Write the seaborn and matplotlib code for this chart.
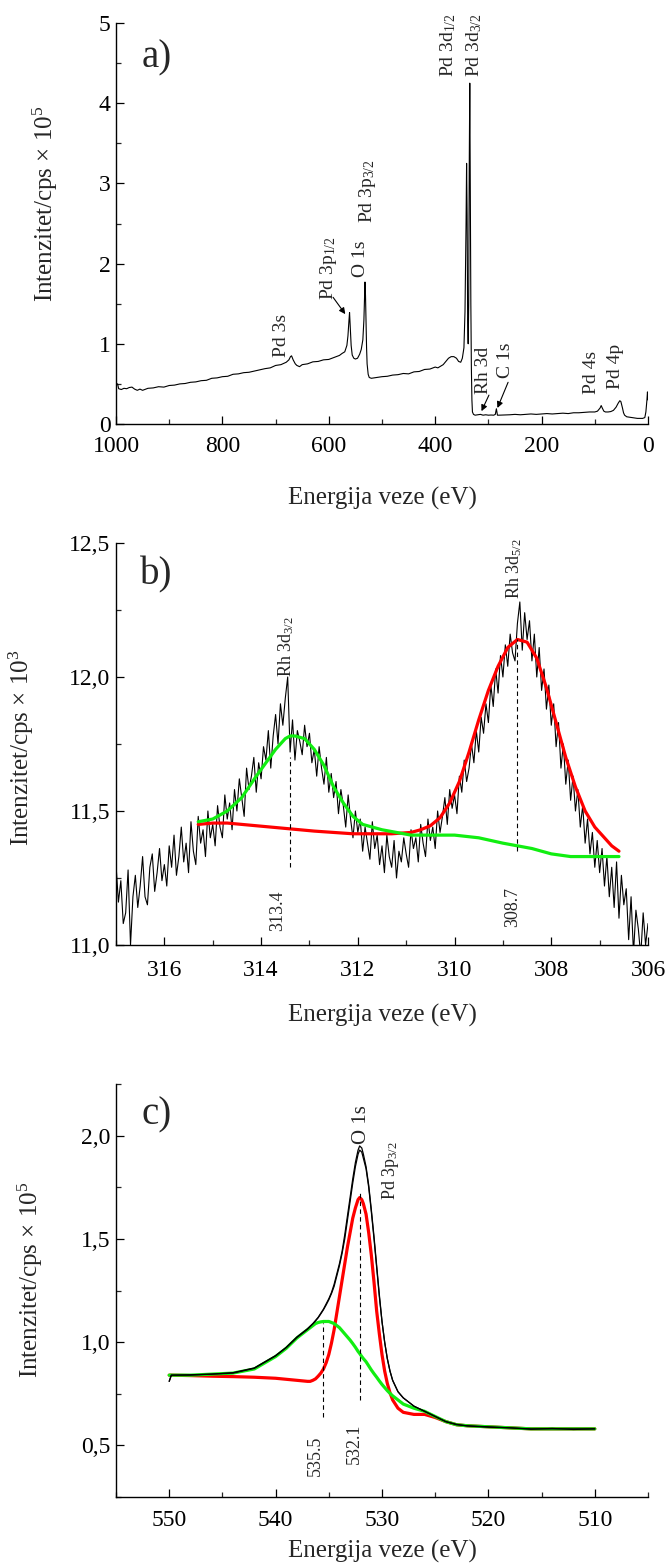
import numpy as np
import matplotlib
matplotlib.use('Agg')
import matplotlib.pyplot as plt
import seaborn as sns
from matplotlib.ticker import MultipleLocator, FuncFormatter

# ---------------- a) survey spectrum (intensity in 1e5 cps) ----------------
survey_ev = [1000, 999, 997, 995, 990, 985, 980, 975, 970, 965, 960, 955, 950, 940, 930,
             920, 910, 900, 890, 880, 870, 860, 850, 840, 830, 820, 810, 800, 790, 780,
             770, 760, 750, 740, 730, 720, 710, 700, 690, 680, 675, 672, 670, 667, 663,
             660, 655, 650, 640, 630, 620, 610, 600, 590, 580, 575, 570, 566, 564, 562,
             561, 560, 558, 556, 553, 550, 546, 542, 539, 536, 534, 533, 532, 531, 530,
             529, 528, 526, 524, 520, 510, 500, 490, 480, 470, 460, 450, 440, 430, 420,
             410, 400, 395, 390, 385, 380, 375, 370, 365, 360, 356, 352, 349, 346, 344,
             342, 341, 340, 339, 338, 337, 336, 335, 334, 333, 332, 331, 330, 328, 325,
             320, 315, 310, 305, 300, 295, 290, 287, 285, 284, 283, 280, 270, 260, 250,
             240, 230, 220, 210, 200, 190, 180, 170, 160, 150, 140, 130, 120, 110, 100,
             95, 90, 88, 86, 83, 80, 75, 70, 65, 60, 56, 53, 51, 48, 46,
             44, 40, 35, 30, 25, 20, 15, 10, 6, 4, 2, 1, 0]
survey_int = [0.44, 0.50, 0.50, 0.44, 0.43, 0.445, 0.44, 0.455, 0.46, 0.435, 0.42, 0.435, 0.42, 0.445, 0.45,
              0.465, 0.46, 0.48, 0.485, 0.50, 0.505, 0.52, 0.525, 0.54, 0.545, 0.57, 0.575, 0.59, 0.595, 0.62,
              0.625, 0.64, 0.645, 0.66, 0.675, 0.69, 0.70, 0.73, 0.74, 0.77, 0.80, 0.84, 0.85, 0.80, 0.75,
              0.73, 0.715, 0.74, 0.75, 0.775, 0.78, 0.80, 0.805, 0.83, 0.855, 0.88, 0.90, 0.98, 1.10, 1.30,
              1.39, 1.25, 0.98, 0.86, 0.82, 0.81, 0.82, 0.87, 0.93, 1.05, 1.30, 1.55, 1.77, 1.60, 1.25,
              0.95, 0.75, 0.62, 0.58, 0.57, 0.58, 0.59, 0.595, 0.61, 0.615, 0.63, 0.625, 0.65, 0.655, 0.68,
              0.685, 0.71, 0.70, 0.72, 0.74, 0.78, 0.82, 0.84, 0.84, 0.82, 0.78, 0.77, 0.82, 0.95, 1.40,
              2.50, 3.25, 2.60, 1.30, 1.00, 1.50, 3.20, 4.25, 3.00, 1.50, 0.70, 0.30, 0.15, 0.12, 0.11,
              0.115, 0.12, 0.11, 0.115, 0.11, 0.112, 0.11, 0.12, 0.19, 0.15, 0.11, 0.11, 0.112, 0.115, 0.12,
              0.115, 0.12, 0.125, 0.12, 0.125, 0.13, 0.125, 0.13, 0.135, 0.13, 0.14, 0.14, 0.145, 0.15, 0.15,
              0.16, 0.20, 0.23, 0.20, 0.16, 0.15, 0.15, 0.155, 0.17, 0.21, 0.26, 0.29, 0.28, 0.20, 0.14,
              0.11, 0.09, 0.085, 0.08, 0.075, 0.07, 0.07, 0.07, 0.08, 0.15, 0.30, 0.40, 0.30]

# ---------------- b) Rh 3d region (intensity in 1e3 cps) ----------------
rh_ev = np.linspace(317.0, 306.0, 221)
rh_int = [11.30, 11.16, 11.24, 11.08, 11.12, 11.28, 11.00, 11.18, 11.26, 11.14,
          11.22, 11.33, 11.18, 11.15, 11.29, 11.34, 11.20, 11.27, 11.36, 11.24,
          11.30, 11.22, 11.37, 11.29, 11.41, 11.26, 11.33, 11.44, 11.31, 11.38,
          11.27, 11.46, 11.35, 11.30, 11.48, 11.38, 11.43, 11.33, 11.50, 11.40,
          11.45, 11.37, 11.52, 11.44, 11.40, 11.56, 11.47, 11.53, 11.43, 11.58,
          11.50, 11.62, 11.55, 11.48, 11.66, 11.58, 11.63, 11.70, 11.57, 11.68,
          11.62, 11.74, 11.69, 11.80, 11.66, 11.78, 11.86, 11.75, 11.90, 11.82,
          11.92, 12.00, 11.72, 11.84, 11.69, 11.80, 11.76, 11.71, 11.82, 11.74,
          11.79, 11.68, 11.73, 11.63, 11.74, 11.66, 11.60, 11.70, 11.57, 11.64,
          11.55, 11.61, 11.49, 11.58, 11.52, 11.44, 11.56, 11.47, 11.40, 11.50,
          11.42, 11.47, 11.35, 11.44, 11.38, 11.32, 11.46, 11.36, 11.41, 11.30,
          11.37, 11.27, 11.41, 11.33, 11.29, 11.39, 11.25, 11.35, 11.31, 11.40,
          11.34, 11.29, 11.43, 11.36, 11.40, 11.31, 11.45, 11.38, 11.33, 11.47,
          11.39, 11.44, 11.36, 11.50, 11.42, 11.48, 11.55, 11.45, 11.58, 11.51,
          11.56, 11.49, 11.63, 11.57, 11.69, 11.61, 11.66, 11.75, 11.68, 11.80,
          11.72, 11.85, 11.79, 11.90, 11.83, 11.97, 11.89, 12.03, 11.94, 12.08,
          12.00, 12.12, 12.04, 12.16, 12.09, 12.06, 12.20, 12.28, 12.10, 12.24,
          12.14, 12.21, 12.06, 12.16, 12.00, 12.11, 11.95, 12.03, 11.88, 11.97,
          11.82, 11.90, 11.74, 11.83, 11.66, 11.75, 11.60, 11.69, 11.54, 11.63,
          11.50, 11.58, 11.44, 11.52, 11.38, 11.47, 11.34, 11.42, 11.29, 11.39,
          11.27, 11.36, 11.22, 11.33, 11.18, 11.29, 11.14, 11.31, 11.10, 11.26,
          11.15, 11.21, 11.02, 11.18, 10.97, 11.13, 11.06, 10.96, 11.12, 11.00,
          11.08]

rh_green_ev = [315.3, 315.0, 314.7, 314.4, 314.1, 313.9, 313.7, 313.5, 313.4, 313.3, 313.1,
               312.9, 312.7, 312.5, 312.3, 312.1, 311.9, 311.7, 311.5, 311.2, 310.9, 310.5,
               310.0, 309.5, 309.0, 308.7, 308.4, 308.0, 307.6, 307.2, 306.9, 306.6]
rh_green = [11.46, 11.47, 11.50, 11.55, 11.63, 11.68, 11.73, 11.77, 11.78, 11.78, 11.77,
            11.73, 11.67, 11.59, 11.53, 11.48, 11.45, 11.44, 11.43, 11.42, 11.41, 11.41,
            11.41, 11.40, 11.38, 11.37, 11.36, 11.34, 11.33, 11.33, 11.33, 11.33]

rh_red_ev = [315.3, 315.0, 314.7, 314.4, 314.1, 313.8, 313.5, 313.2, 312.9, 312.5, 312.1,
             311.7, 311.3, 310.9, 310.7, 310.5, 310.3, 310.1, 309.9, 309.7, 309.5, 309.3,
             309.1, 308.9, 308.7, 308.5, 308.3, 308.1, 307.9, 307.7, 307.5, 307.3, 307.1,
             306.9, 306.75, 306.6]
rh_red = [11.45, 11.455, 11.455, 11.45, 11.445, 11.44, 11.435, 11.43, 11.425, 11.42, 11.415,
          11.415, 11.415, 11.42, 11.43, 11.445, 11.475, 11.53, 11.61, 11.72, 11.84, 11.95,
          12.04, 12.11, 12.14, 12.13, 12.07, 11.96, 11.83, 11.70, 11.59, 11.50, 11.44,
          11.40, 11.37, 11.35]

# ---------------- c) O 1s / Pd 3p3/2 region (intensity in 1e5 cps) ----------------
o1s_ev = [550, 549.8, 548, 546, 544, 542, 540, 539, 538,
          537, 536.75, 536.5, 536.25, 536, 535.75, 535.5, 535.25, 535, 534.75, 534.5, 534.25,
          534, 533.75, 533.5, 533.25, 533, 532.75, 532.5, 532.25, 532.1, 531.9, 531.75, 531.5,
          531.25, 531, 530.75, 530.5, 530.25, 530, 529.75, 529.5, 529.25, 529, 528.5, 528,
          527, 526, 525, 524, 523, 522, 520, 518, 516, 514, 512, 510]
o1s_data = [0.81, 0.84, 0.842, 0.845, 0.852, 0.875, 0.935, 0.975, 1.025,
            1.065, 1.078, 1.09, 1.105, 1.12, 1.14, 1.16, 1.185, 1.21, 1.24, 1.28, 1.33,
            1.38, 1.44, 1.52, 1.61, 1.70, 1.79, 1.87, 1.93, 1.95, 1.94, 1.91, 1.85,
            1.76, 1.64, 1.51, 1.37, 1.23, 1.10, 1.00, 0.92, 0.86, 0.815, 0.76, 0.73,
            0.69, 0.665, 0.64, 0.615, 0.602, 0.594, 0.588, 0.585, 0.578, 0.582, 0.577, 0.58]
o1s_envelope = [0.81, 0.84, 0.84, 0.845, 0.85, 0.873, 0.933, 0.973, 1.022,
                1.062, 1.075, 1.088, 1.102, 1.118, 1.137, 1.157, 1.18, 1.205, 1.235, 1.27, 1.32,
                1.37, 1.43, 1.50, 1.59, 1.68, 1.77, 1.85, 1.91, 1.93, 1.92, 1.89, 1.84,
                1.75, 1.63, 1.50, 1.36, 1.22, 1.10, 1.00, 0.92, 0.86, 0.815, 0.76, 0.73,
                0.69, 0.665, 0.64, 0.615, 0.60, 0.595, 0.59, 0.585, 0.58, 0.58, 0.58, 0.58]
o1s_green = [0.84, 0.84, 0.84, 0.845, 0.85, 0.87, 0.93, 0.97, 1.02,
             1.06, 1.07, 1.08, 1.09, 1.095, 1.098, 1.10, 1.10, 1.10, 1.095, 1.09, 1.08,
             1.07, 1.055, 1.04, 1.025, 1.01, 0.993, 0.975, 0.955, 0.945, 0.93, 0.92, 0.905,
             0.885, 0.865, 0.847, 0.83, 0.812, 0.795, 0.78, 0.765, 0.752, 0.74, 0.72, 0.70,
             0.68, 0.665, 0.64, 0.615, 0.60, 0.595, 0.59, 0.585, 0.58, 0.58, 0.58, 0.58]
o1s_red = [0.84, 0.84, 0.838, 0.835, 0.833, 0.83, 0.825, 0.82, 0.815,
           0.81, 0.81, 0.815, 0.822, 0.835, 0.85, 0.87, 0.90, 0.94, 0.995, 1.06, 1.14,
           1.22, 1.30, 1.38, 1.46, 1.53, 1.60, 1.65, 1.69, 1.70, 1.69, 1.67, 1.62,
           1.53, 1.42, 1.29, 1.15, 1.04, 0.94, 0.86, 0.80, 0.755, 0.72, 0.68, 0.66,
           0.65, 0.65, 0.635, 0.615, 0.60, 0.595, 0.59, 0.585, 0.58, 0.58, 0.58, 0.58]

RED = '#ff0000'
GREEN = '#11ee11'

sns.set_style('ticks')
plt.rcParams['font.family'] = ['Liberation Serif', 'DejaVu Serif']
plt.rcParams['mathtext.fontset'] = 'custom'
plt.rcParams['mathtext.rm'] = 'Liberation Serif'
plt.rcParams['mathtext.it'] = 'Liberation Serif:italic'

fig = plt.figure(figsize=(6.7, 15.64), dpi=100)
W, H = 670, 1564


def make_axes(top, bottom):
    return fig.add_axes([116 / W, 1 - bottom / H, 532 / W, (bottom - top) / H])


def style(ax, xpad):
    sns.despine(ax=ax)
    for s in ('left', 'bottom'):
        ax.spines[s].set_linewidth(1.0)
        ax.spines[s].set_color('black')
    ax.tick_params(which='major', direction='in', length=6, width=0.9, labelsize=17, colors='black')
    ax.tick_params(which='minor', direction='in', length=3.5, width=0.9)
    ax.tick_params(axis='x', pad=xpad)
    ax.tick_params(axis='y', pad=4)


comma = FuncFormatter(lambda v, p: f'{v:.1f}'.replace('.', ','))
ann = dict(rotation=90, ha='center', va='bottom', fontsize=14)
arrow = dict(arrowstyle='-|>', lw=0.8, color='black', mutation_scale=9, shrinkA=0, shrinkB=0)
LABEL = 18

# ---------- a) ----------
ax = make_axes(23, 424)
sns.lineplot(x=survey_ev, y=survey_int, ax=ax, color='black', lw=0.8)
ax.set_xlim(1000, 0)
ax.set_ylim(0, 5)
ax.xaxis.set_major_locator(MultipleLocator(200))
ax.xaxis.set_minor_locator(MultipleLocator(100))
ax.yaxis.set_major_locator(MultipleLocator(1))
ax.yaxis.set_minor_locator(MultipleLocator(0.5))
style(ax, 9)
ax.set_xlabel('Energija veze (eV)', fontsize=LABEL, labelpad=21)
ax.set_ylabel('Intenzitet/cps × 10$^{\\mathregular{5}}$', fontsize=LABEL)
ax.yaxis.set_label_coords(-0.105, 0.55)
ax.text(0.048, 0.913, 'a)', transform=ax.transAxes, fontsize=28, va='center', ha='left')
ax.text(688, 0.83, 'Pd 3s', **ann)
ax.text(600, 1.54, 'Pd 3p$_{\\mathregular{1/2}}$', **ann)
ax.annotate('', xy=(569, 1.37), xytext=(592, 1.58), arrowprops=arrow)
ax.text(540, 1.83, 'O 1s', **ann)
ax.text(528, 2.51, 'Pd 3p$_{\\mathregular{3/2}}$', **ann)
ax.text(375, 4.33, 'Pd 3d$_{\\mathregular{1/2}}$', **ann)
ax.text(327, 4.33, 'Pd 3d$_{\\mathregular{3/2}}$', **ann)
ax.text(309, 0.38, 'Rh 3d', **ann)
ax.annotate('', xy=(313, 0.16), xytext=(299, 0.36), arrowprops=arrow)
ax.text(267, 0.57, 'C 1s', **ann)
ax.annotate('', xy=(283, 0.20), xytext=(263, 0.52), arrowprops=arrow)
ax.text(106, 0.38, 'Pd 4s', **ann)
ax.text(62, 0.44, 'Pd 4p', **ann)

# ---------- b) ----------
ax = make_axes(543, 945)
sns.lineplot(x=rh_ev, y=rh_int, ax=ax, color='black', lw=0.8)
sns.lineplot(x=rh_red_ev, y=rh_red, ax=ax, color=RED, lw=2.3)
sns.lineplot(x=rh_green_ev, y=rh_green, ax=ax, color=GREEN, lw=2.3)
ax.vlines(313.4, 11.29, 11.70, colors='black', linestyles=(0, (4, 3)), lw=0.8)
ax.vlines(308.7, 11.35, 12.14, colors='black', linestyles=(0, (4, 3)), lw=0.8)
ax.set_xlim(317, 306)
ax.set_ylim(11.0, 12.5)
ax.xaxis.set_major_locator(MultipleLocator(2))
ax.xaxis.set_minor_locator(MultipleLocator(1))
ax.yaxis.set_major_locator(MultipleLocator(0.5))
ax.yaxis.set_minor_locator(MultipleLocator(0.25))
ax.yaxis.set_major_formatter(comma)
style(ax, 11)
ax.set_xlabel('Energija veze (eV)', fontsize=LABEL, labelpad=16)
ax.set_ylabel('Intenzitet/cps × 10$^{\\mathregular{3}}$', fontsize=LABEL)
ax.yaxis.set_label_coords(-0.15, 0.49)
ax.text(0.045, 0.92, 'b)', transform=ax.transAxes, fontsize=28, va='center', ha='left')
ax.text(313.48, 12.0, 'Rh 3d$_{\\mathregular{3/2}}$', rotation=90, ha='center', va='bottom', fontsize=13)
ax.text(308.76, 12.29, 'Rh 3d$_{\\mathregular{5/2}}$', rotation=90, ha='center', va='bottom', fontsize=13)
ax.text(313.66, 11.205, '313.4', rotation=90, ha='center', va='top', fontsize=13)
ax.text(308.8, 11.215, '308.7', rotation=90, ha='center', va='top', fontsize=13)

# ---------- c) ----------
ax = make_axes(1084, 1497)
sns.lineplot(x=o1s_ev, y=o1s_red, ax=ax, color=RED, lw=2.3)
sns.lineplot(x=o1s_ev, y=o1s_green, ax=ax, color=GREEN, lw=2.3)
sns.lineplot(x=o1s_ev, y=o1s_data, ax=ax, color='black', lw=0.9)
sns.lineplot(x=o1s_ev, y=o1s_envelope, ax=ax, color='black', lw=0.9)
ax.vlines(535.5, 0.637, 1.093, colors='black', linestyles=(0, (4, 3)), lw=0.8)
ax.vlines(532.1, 0.72, 1.72, colors='black', linestyles=(0, (4, 3)), lw=0.8)
ax.set_xlim(555, 505)
ax.set_ylim(0.25, 2.25)
ax.xaxis.set_major_locator(MultipleLocator(10))
ax.xaxis.set_minor_locator(MultipleLocator(5))
ax.yaxis.set_major_locator(MultipleLocator(0.5))
ax.yaxis.set_minor_locator(MultipleLocator(0.25))
ax.yaxis.set_major_formatter(comma)
style(ax, 9)
ax.set_xlabel('Energija veze (eV)', fontsize=LABEL, labelpad=7)
ax.set_ylabel('Intenzitet/cps × 10$^{\\mathregular{5}}$', fontsize=LABEL)
ax.yaxis.set_label_coords(-0.133, 0.525)
ax.text(0.048, 0.925, 'c)', transform=ax.transAxes, fontsize=28, va='center', ha='left')
ax.text(531.9, 1.96, 'O 1s', rotation=90, ha='center', va='bottom', fontsize=15)
ax.text(529.2, 1.69, 'Pd 3p$_{\\mathregular{3/2}}$', rotation=90, ha='center', va='bottom', fontsize=13)
ax.text(536.25, 0.546, '535.5', rotation=90, ha='center', va='top', fontsize=13)
ax.text(532.55, 0.604, '532.1', rotation=90, ha='center', va='top', fontsize=13)

fig.savefig('out.png', dpi=100)
